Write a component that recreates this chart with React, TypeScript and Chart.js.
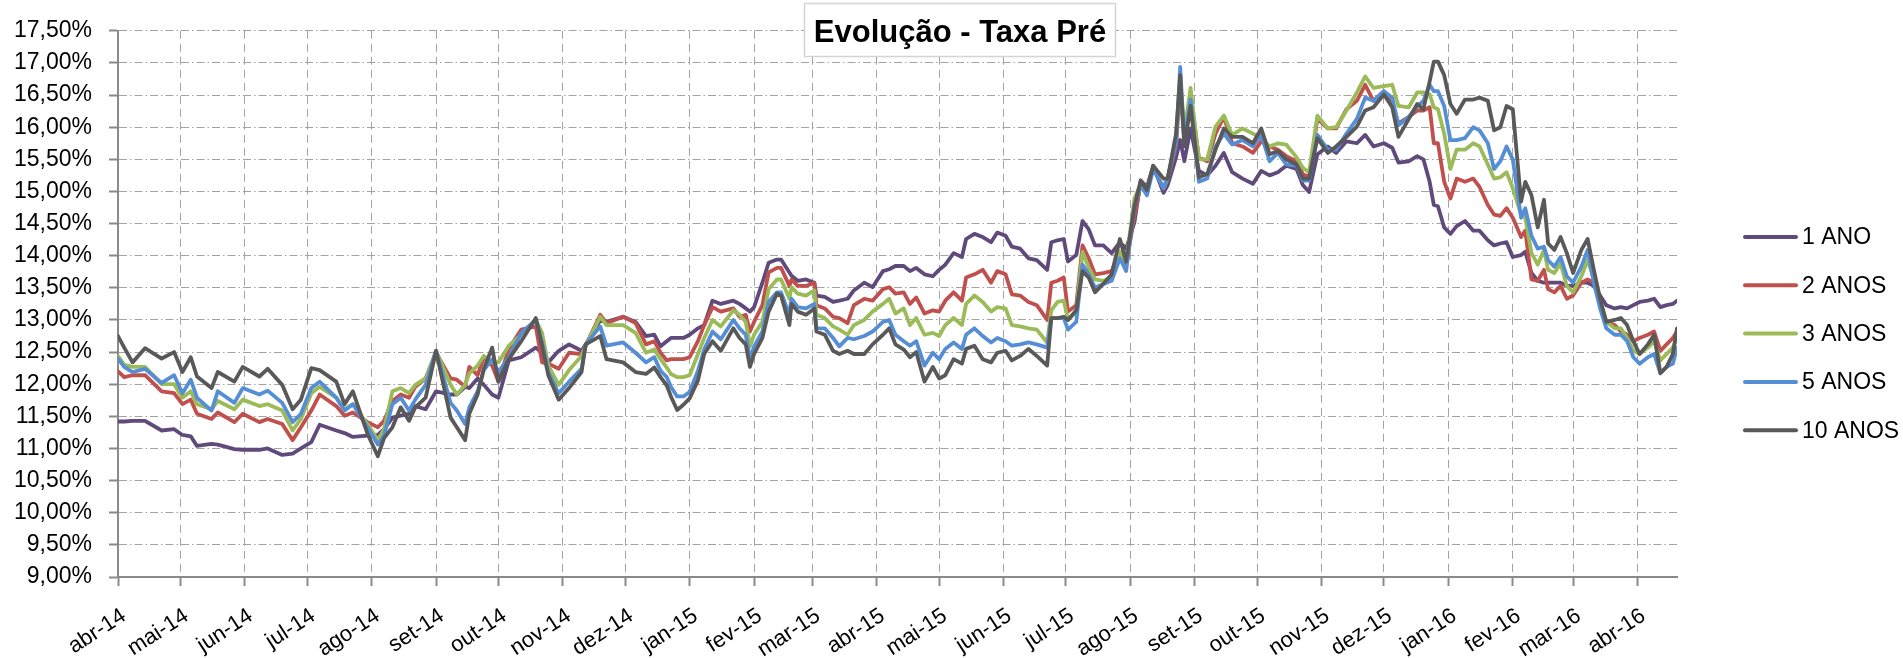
import { useEffect, useRef } from 'react';
import { Chart, registerables } from 'chart.js';

Chart.register(...registerables);

// Dias corridos desde 01/04/2014
const dias = [
  0, 3, 7, 13, 21, 27, 31, 35, 38, 45, 48, 56, 60, 68, 72, 79, 84, 88, 93, 97, 105, 109, 113, 120, 125,
  128, 132, 136, 140, 143, 148, 153, 160, 163, 167, 169, 173, 176, 180, 183, 188, 194, 201, 204, 207, 212, 217, 223, 225, 232, 235, 243, 249,
  254, 258, 261, 264, 266, 269, 272, 275, 279, 282, 286, 290, 296, 299, 302, 304, 306, 310, 313, 317, 319, 323, 324, 327, 331, 335, 336, 340, 344, 347, 351, 354, 359, 363, 368, 371, 374, 378,
  381, 384, 388, 392, 395, 398, 402, 406, 408, 412, 416, 420, 423, 427, 430, 434, 438, 442, 447, 449, 452, 455, 457, 461, 464, 467, 470, 474, 478, 482, 485, 489, 492, 495, 498,
  503, 505, 509, 511, 513, 516, 520, 524, 528, 532, 536, 541, 546, 550, 554, 558, 562, 567, 570, 573, 577, 582, 586, 591, 596, 600, 604, 609, 613, 616, 621, 625,
  628, 631, 633, 635, 638, 641, 644, 648, 652, 655, 659, 662, 665, 668, 671, 675, 677, 680, 683, 686, 688, 691, 694, 697, 700, 704, 707, 710, 713, 716, 720, 723, 726, 729, 732, 736, 739, 742, 745, 748, 750,
];

const ano1 = [
  11.42, 11.42, 11.43, 11.43, 11.28, 11.30, 11.21, 11.19, 11.04, 11.07, 11.06, 10.99, 10.98, 10.98, 11.00, 10.90, 10.92, 11.00, 11.10, 11.37, 11.28, 11.24, 11.18, 11.20, 11.21,
  11.30, 11.48, 11.51, 11.54, 11.66, 11.61, 11.89, 11.84, 11.84, 11.96, 11.94, 12.09, 11.99, 11.84, 11.79, 12.37, 12.42, 12.57, 12.49, 12.34, 12.52, 12.62, 12.52, 12.62, 13.00, 12.97, 13.05, 12.97,
  12.75, 12.77, 12.59, 12.67, 12.72, 12.72, 12.72, 12.77, 12.87, 12.92, 13.30, 13.25, 13.30, 13.25, 13.18, 13.13, 13.20, 13.58, 13.89, 13.94, 13.94, 13.74, 13.69, 13.61, 13.63, 13.58, 13.38, 13.36, 13.28, 13.30, 13.33, 13.46, 13.58, 13.51, 13.76, 13.79, 13.84, 13.84,
  13.76, 13.81, 13.71, 13.68, 13.78, 13.86, 14.04, 13.98, 14.26, 14.34, 14.29, 14.21, 14.36, 14.31, 14.14, 14.11, 13.96, 13.93, 13.78, 14.21, 14.24, 14.26, 13.91, 14.01, 14.54, 14.41, 14.16, 14.16, 14.04, 14.21, 14.11, 14.52, 15.17, 15.07, 15.40,
  14.98, 15.10, 15.53, 15.80, 15.47, 15.98, 15.32, 15.25, 15.40, 15.60, 15.30, 15.20, 15.12, 15.32, 15.25, 15.30, 15.40, 15.35, 15.10, 14.99, 15.58, 15.70, 15.60, 15.78, 15.75, 15.88, 15.70, 15.75, 15.68, 15.45, 15.47, 15.55,
  15.50, 15.15, 14.79, 14.77, 14.44, 14.34, 14.46, 14.54, 14.39, 14.39, 14.24, 14.16, 14.19, 14.21, 13.98, 14.01, 14.06, 13.73, 13.61, 13.58, 13.58, 13.58, 13.58, 13.53, 13.53, 13.58, 13.58, 13.53, 13.38, 13.23, 13.18, 13.20, 13.18, 13.23, 13.28, 13.30, 13.33, 13.20, 13.23, 13.25, 13.30,
];

const anos2 = [
  12.20, 12.11, 12.14, 12.14, 11.89, 11.86, 11.69, 11.76, 11.54, 11.46, 11.56, 11.41, 11.54, 11.41, 11.46, 11.38, 11.13, 11.33, 11.59, 11.84, 11.66, 11.51, 11.56, 11.41, 11.33,
  11.43, 11.74, 11.84, 11.79, 11.96, 12.09, 12.49, 12.09, 12.07, 11.96, 12.27, 12.14, 12.42, 12.29, 12.04, 12.55, 12.85, 12.90, 12.34, 12.32, 12.24, 12.49, 12.47, 12.60, 13.08, 12.95, 13.05, 12.95,
  12.62, 12.67, 12.49, 12.37, 12.39, 12.39, 12.39, 12.42, 12.67, 12.92, 13.20, 13.13, 13.18, 13.05, 13.08, 12.82, 12.97, 13.23, 13.74, 13.81, 13.81, 13.53, 13.63, 13.53, 13.53, 13.58, 13.23, 13.18, 13.05, 13.03, 12.95, 13.23, 13.33, 13.30, 13.48, 13.51, 13.41, 13.43,
  13.25, 13.35, 13.10, 13.15, 13.13, 13.30, 13.43, 13.30, 13.66, 13.71, 13.78, 13.58, 13.76, 13.71, 13.40, 13.38, 13.28, 13.23, 13.00, 13.58, 13.61, 13.66, 13.13, 13.23, 14.16, 13.96, 13.71, 13.73, 13.76, 14.06, 13.86, 14.62, 15.12, 15.02, 15.37,
  15.05, 15.20, 15.70, 16.66, 15.78, 16.46, 15.53, 15.47, 15.90, 16.16, 15.75, 15.70, 15.60, 15.78, 15.70, 15.65, 15.55, 15.47, 15.27, 15.22, 16.13, 15.98, 15.98, 16.28, 16.41, 16.66, 16.41, 16.56, 16.36, 16.06, 16.16, 16.26,
  16.26, 16.31, 15.75, 15.75, 15.15, 14.89, 15.20, 15.15, 15.20, 15.07, 14.79, 14.64, 14.62, 14.74, 14.59, 14.29, 14.39, 13.63, 13.61, 13.78, 13.48, 13.43, 13.53, 13.33, 13.38, 13.58, 13.63, 13.58, 13.28, 12.97, 12.92, 12.82, 12.77, 12.67, 12.72, 12.77, 12.82, 12.52, 12.62, 12.72, 12.82,
];

const anos3 = [
  12.44, 12.30, 12.27, 12.27, 12.00, 12.00, 11.79, 11.89, 11.69, 11.61, 11.74, 11.61, 11.76, 11.66, 11.69, 11.59, 11.28, 11.46, 11.86, 11.96, 11.79, 11.61, 11.69, 11.38, 11.13,
  11.30, 11.89, 11.94, 11.86, 11.99, 12.09, 12.52, 11.99, 11.84, 11.99, 12.17, 12.29, 12.44, 12.34, 12.34, 12.60, 12.77, 13.00, 12.80, 12.29, 11.99, 12.22, 12.44, 12.60, 13.05, 12.92, 12.92, 12.80,
  12.49, 12.54, 12.39, 12.26, 12.16, 12.11, 12.11, 12.14, 12.47, 12.72, 13.00, 12.90, 13.15, 13.08, 12.97, 12.59, 12.77, 12.97, 13.48, 13.63, 13.63, 13.33, 13.51, 13.41, 13.38, 13.46, 13.08, 13.03, 12.90, 12.85, 12.77, 12.92, 13.00, 13.13, 13.25, 13.33, 13.10, 13.18,
  12.92, 13.03, 12.77, 12.80, 12.75, 12.92, 13.03, 12.92, 13.25, 13.38, 13.28, 13.13, 13.20, 13.18, 12.92, 12.90, 12.87, 12.85, 12.65, 13.15, 13.28, 13.30, 13.00, 13.13, 14.06, 13.81, 13.63, 13.61, 13.66, 14.06, 13.91, 14.89, 15.12, 15.02, 15.37,
  15.05, 15.20, 15.83, 16.71, 15.93, 16.61, 15.50, 15.50, 16.01, 16.18, 15.88, 15.98, 15.90, 15.83, 15.70, 15.75, 15.73, 15.53, 15.37, 15.30, 16.18, 15.98, 16.00, 16.26, 16.54, 16.79, 16.61, 16.64, 16.66, 16.33, 16.31, 16.54,
  16.54, 16.51, 16.31, 16.28, 15.90, 15.35, 15.65, 15.65, 15.75, 15.70, 15.42, 15.20, 15.22, 15.30, 15.05, 14.64, 14.59, 14.04, 13.86, 14.09, 13.78, 13.73, 13.88, 13.53, 13.43, 13.68, 13.93, 13.63, 13.23, 12.97, 12.87, 12.87, 12.72, 12.52, 12.47, 12.57, 12.67, 12.37, 12.47, 12.57, 12.72,
];

const anos5 = [
  12.40, 12.27, 12.19, 12.24, 12.02, 12.14, 11.86, 12.07, 11.79, 11.59, 11.89, 11.71, 11.94, 11.84, 11.90, 11.71, 11.41, 11.54, 11.94, 12.04, 11.79, 11.59, 11.69, 11.33, 11.06,
  11.20, 11.69, 11.79, 11.59, 11.76, 11.99, 12.52, 11.71, 11.59, 11.38, 11.64, 11.89, 12.22, 12.39, 12.19, 12.42, 12.80, 13.00, 12.65, 12.19, 11.86, 12.04, 12.24, 12.62, 12.90, 12.60, 12.65, 12.49,
  12.34, 12.42, 12.21, 12.11, 11.96, 11.81, 11.81, 11.88, 12.21, 12.54, 12.82, 12.70, 13.00, 12.87, 12.77, 12.39, 12.59, 12.82, 13.28, 13.43, 13.43, 13.08, 13.33, 13.20, 13.18, 13.25, 12.87, 12.87, 12.72, 12.59, 12.72, 12.70, 12.75, 12.82, 12.97, 13.00, 12.77, 12.67,
  12.60, 12.67, 12.29, 12.49, 12.39, 12.55, 12.65, 12.55, 12.77, 12.87, 12.75, 12.65, 12.72, 12.67, 12.60, 12.62, 12.65, 12.62, 12.57, 13.03, 13.03, 13.03, 12.85, 12.97, 13.86, 13.71, 13.50, 13.56, 13.61, 13.96, 13.76, 14.77, 15.10, 14.94, 15.35,
  15.05, 15.22, 15.75, 16.94, 15.78, 16.43, 15.15, 15.20, 15.70, 15.90, 15.73, 15.80, 15.70, 15.88, 15.47, 15.60, 15.42, 15.40, 15.17, 15.17, 15.88, 15.65, 15.65, 15.90, 16.13, 16.46, 16.41, 16.56, 16.46, 16.03, 16.16, 16.33,
  16.41, 16.66, 16.56, 16.56, 16.33, 15.80, 15.80, 15.83, 16.00, 15.95, 15.75, 15.35, 15.47, 15.70, 15.50, 14.59, 14.74, 14.31, 14.11, 14.14, 13.93, 13.83, 13.98, 13.68, 13.58, 13.83, 14.09, 13.58, 13.18, 12.87, 12.77, 12.77, 12.67, 12.42, 12.32, 12.42, 12.47, 12.17, 12.27, 12.32, 12.57,
];

const anos10 = [
  12.75, 12.57, 12.34, 12.56, 12.40, 12.50, 12.19, 12.42, 12.12, 11.94, 12.19, 12.04, 12.27, 12.12, 12.24, 11.99, 11.61, 11.76, 12.25, 12.22, 12.04, 11.69, 11.89, 11.23, 10.88,
  11.16, 11.33, 11.64, 11.43, 11.64, 11.79, 12.52, 11.48, 11.33, 11.13, 11.54, 11.84, 12.24, 12.57, 12.04, 12.39, 12.67, 13.03, 12.60, 12.14, 11.76, 11.94, 12.19, 12.62, 12.75, 12.39, 12.34, 12.19,
  12.16, 12.26, 12.11, 11.98, 11.81, 11.60, 11.68, 11.78, 12.06, 12.47, 12.67, 12.52, 12.87, 12.72, 12.62, 12.27, 12.47, 12.72, 13.13, 13.41, 13.38, 12.92, 13.25, 13.13, 13.08, 13.18, 12.82, 12.77, 12.52, 12.47, 12.52, 12.47, 12.47, 12.62, 12.77, 12.87, 12.62, 12.54,
  12.42, 12.50, 12.04, 12.27, 12.09, 12.14, 12.39, 12.32, 12.55, 12.60, 12.39, 12.34, 12.49, 12.52, 12.37, 12.44, 12.55, 12.44, 12.29, 13.03, 13.03, 13.05, 13.00, 13.15, 13.76, 13.66, 13.43, 13.56, 13.71, 14.26, 13.91, 14.77, 15.17, 15.02, 15.40,
  15.20, 15.20, 15.90, 16.81, 15.70, 16.33, 15.22, 15.27, 15.65, 15.98, 15.85, 15.85, 15.75, 15.98, 15.58, 15.63, 15.50, 15.42, 15.20, 15.20, 15.83, 15.60, 15.70, 15.85, 16.01, 16.26, 16.31, 16.51, 16.31, 15.85, 16.13, 16.36,
  16.28, 16.71, 17.02, 17.02, 16.81, 16.36, 16.21, 16.43, 16.43, 16.46, 16.41, 15.95, 16.00, 16.33, 16.28, 14.84, 15.15, 14.94, 14.44, 14.87, 14.19, 14.09, 14.29, 14.04, 13.73, 14.09, 14.26, 13.78, 13.33, 12.97, 13.00, 13.03, 12.92, 12.67, 12.47, 12.62, 12.77, 12.17, 12.27, 12.47, 12.87,
];

const seriesLabels = ['1 ANO', '2 ANOS', '3 ANOS', '5 ANOS', '10 ANOS'];
const seriesColors = ['#604a7b', '#c0504d', '#9bbb59', '#558ed5', '#595959'];

// Início de cada mês (dias desde 01/04/2014) e rótulos do eixo X
const monthTicks = [0, 30, 61, 91, 122, 153, 183, 214, 244, 275, 306, 334, 365, 395, 426, 456, 487, 518, 548, 579, 609, 640, 671, 700, 731];
const monthLabels = [
  'abr-14', 'mai-14', 'jun-14', 'jul-14', 'ago-14', 'set-14', 'out-14', 'nov-14', 'dez-14',
  'jan-15', 'fev-15', 'mar-15', 'abr-15', 'mai-15', 'jun-15', 'jul-15', 'ago-15', 'set-15', 'out-15', 'nov-15', 'dez-15',
  'jan-16', 'fev-16', 'mar-16', 'abr-16',
];

const titleText = 'Evolução - Taxa Pré';
const FONT = '"Liberation Sans", Arial, sans-serif';

const overlayPlugin = {
  id: 'overlay',
  afterDraw(chart: any) {
    const ctx = chart.ctx as CanvasRenderingContext2D;
    ctx.save();
    // Title box
    ctx.fillStyle = '#ffffff';
    ctx.fillRect(804, 3, 312, 54);
    ctx.strokeStyle = '#d4d4d4';
    ctx.lineWidth = 1.5;
    ctx.strokeRect(804.5, 3.5, 311, 53);
    ctx.fillStyle = '#000000';
    ctx.font = `bold 31px ${FONT}`;
    ctx.textAlign = 'center';
    ctx.textBaseline = 'alphabetic';
    ctx.fillText(titleText, 960, 42);
    // Legend
    chart.data.datasets.forEach((ds: any, i: number) => {
      const y = 237 + i * 48.3;
      ctx.strokeStyle = ds.borderColor;
      ctx.lineWidth = 4;
      ctx.lineCap = 'round';
      ctx.beginPath();
      ctx.moveTo(1745, y);
      ctx.lineTo(1796, y);
      ctx.stroke();
      ctx.fillStyle = '#000000';
      ctx.font = `23px ${FONT}`;
      ctx.textAlign = 'left';
      ctx.textBaseline = 'middle';
      ctx.fillText(ds.label, 1802, y + 1);
    });
    ctx.restore();
  },
};

export default function App() {
  const ref = useRef<HTMLCanvasElement>(null);

  useEffect(() => {
    if (!ref.current) return;
    const series = [ano1, anos2, anos3, anos5, anos10];
    const chart = new Chart(ref.current, {
      type: 'line',
      data: {
        datasets: series.map((s, i) => ({
          label: seriesLabels[i],
          data: s.map((v, j) => ({ x: dias[j], y: v })),
          borderColor: seriesColors[i],
          backgroundColor: seriesColors[i],
          borderWidth: 3.8,
          pointRadius: 0,
          pointHoverRadius: 0,
          tension: 0,
          borderJoinStyle: 'round',
          borderCapStyle: 'round',
          order: 5 - i,
        })),
      },
      options: {
        animation: false,
        responsive: true,
        maintainAspectRatio: false,
        layout: { padding: { top: 16, right: 226, left: 0, bottom: 0 } },
        plugins: {
          legend: { display: false },
          tooltip: { enabled: false },
          title: { display: false },
        },
        scales: {
          x: {
            type: 'linear',
            min: 0,
            max: 750,
            afterBuildTicks: (scale: any) => {
              scale.ticks = monthTicks.map((v) => ({ value: v }));
            },
            afterFit: (scale: any) => {
              scale.height = 81;
            },
            ticks: {
              autoSkip: false,
              minRotation: 33,
              maxRotation: 33,
              padding: 17,
              labelOffset: 6,
              color: '#000000',
              font: { family: FONT, size: 22 },
              callback: (_v: any, i: number) => monthLabels[i],
            },
            grid: {
              color: '#a3a3a3',
              lineWidth: 1,
              tickLength: 9,
              tickColor: '#8a8a8a',
              tickWidth: 2,
            },
            border: { display: true, color: '#8a8a8a', width: 2, dash: [8, 5] },
          },
          y: {
            min: 9,
            max: 17.5,
            afterFit: (scale: any) => {
              scale.width = 118;
            },
            ticks: {
              stepSize: 0.5,
              padding: 17,
              color: '#000000',
              font: { family: FONT, size: 23 },
              callback: (v: any) => Number(v).toFixed(2).replace('.', ',') + '%',
            },
            grid: {
              color: '#a3a3a3',
              lineWidth: 1,
              tickLength: 9,
              tickColor: '#8a8a8a',
              tickWidth: 2,
            },
            border: { display: true, color: '#8a8a8a', width: 2, dash: [8, 3, 1.5, 3] },
          },
        },
      },
      plugins: [overlayPlugin],
    } as any);
    return () => chart.destroy();
  }, []);

  return (
    <div style={{ position: 'absolute', left: 0, top: 0, width: 1903, height: 658 }}>
      <canvas ref={ref} />
    </div>
  );
}
